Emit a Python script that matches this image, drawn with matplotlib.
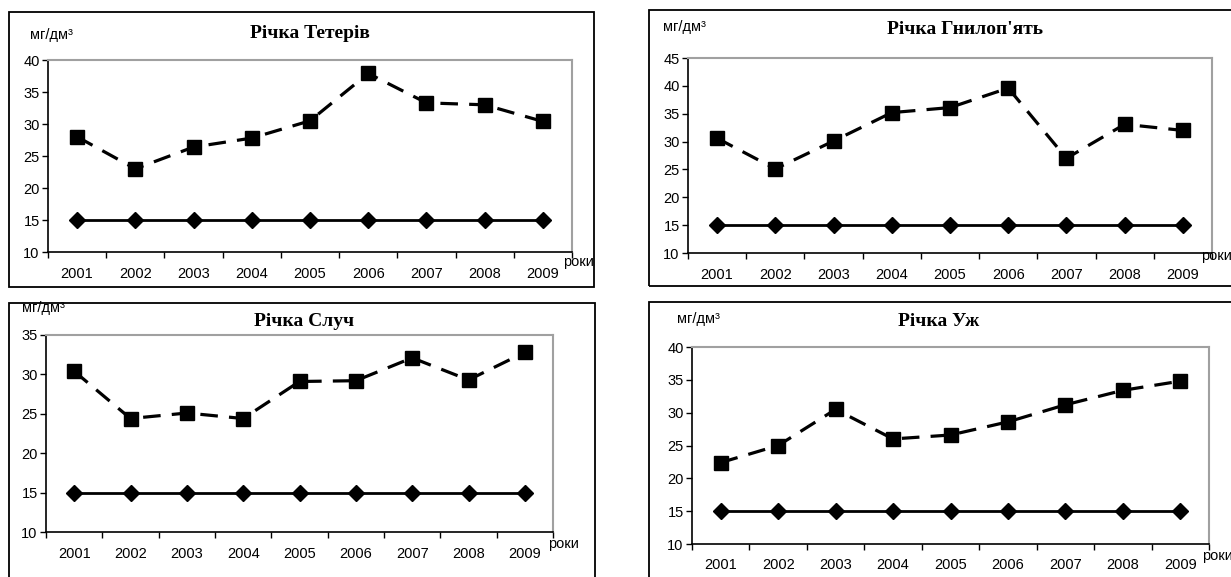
import matplotlib.pyplot as plt
from matplotlib.patches import Rectangle

years = ["2001", "2002", "2003", "2004", "2005", "2006", "2007", "2008", "2009"]
norm = [15, 15, 15, 15, 15, 15, 15, 15, 15]

teteriv = [28.0, 23.0, 26.4, 27.8, 30.5, 37.9, 33.3, 33.0, 30.4]
hnylopiat = [30.6, 25.1, 30.1, 35.2, 36.1, 39.6, 27.0, 33.1, 32.0]
sluch = [30.4, 24.4, 25.1, 24.4, 29.1, 29.2, 32.1, 29.3, 32.8]
uzh = [22.4, 25.0, 30.5, 26.0, 26.6, 28.6, 31.2, 33.4, 34.8]

titles = ["Річка Тетерів", "Річка Гнилоп'ять", "Річка Случ", "Річка Уж"]
ylims = [(10, 40), (10, 45), (10, 35), (10, 40)]

W, H = 1231, 577
fig = plt.figure(figsize=(W / 100, H / 100), dpi=100)
fig.patch.set_facecolor("white")


def fx(x):
    return x / W


def fy(y):
    return 1 - y / H


# layout in pixels: outer box, plot area, title, units label, "роки", tick pad
panels = [
    dict(box=(9, 12, 594, 287), plot=(48, 60, 572, 252), title=(310, 33),
         units=(30, 35), roky=(563, 262), pad=11),
    dict(box=(649, 10, 1245, 286), plot=(688, 58, 1212, 253), title=(965, 30),
         units=(663, 27), roky=(1201, 256), pad=11),
    dict(box=(9, 303, 595, 590), plot=(46, 335, 553, 532), title=(304, 322),
         units=(22, 308), roky=(548, 544), pad=11),
    dict(box=(649, 302, 1245, 590), plot=(692, 347, 1209, 544), title=(939, 322),
         units=(677, 319), roky=(1202, 556), pad=10),
]
series = [teteriv, hnylopiat, sluch, uzh]

for p, vals, title, ylim in zip(panels, series, titles, ylims):
    bx0, by0, bx1, by1 = p["box"]
    fig.add_artist(Rectangle((fx(bx0), fy(by1)), fx(bx1 - bx0), (by1 - by0) / H,
                             transform=fig.transFigure, fill=False,
                             edgecolor="black", linewidth=1.3))
    x0, y0, x1, y1 = p["plot"]
    ax = fig.add_axes([fx(x0), fy(y1), fx(x1 - x0), (y1 - y0) / H])
    xs = range(len(years))
    ax.plot(xs, norm, color="black", linewidth=2, marker="D", markersize=8.5,
            markerfacecolor="black", markeredgecolor="black")
    ax.plot(xs, vals, color="black", linewidth=2.3, dashes=(5.5, 3.5), marker="s",
            markersize=10, markerfacecolor="black", markeredgecolor="black")
    ax.set_xlim(-0.5, len(years) - 0.5)
    ax.set_ylim(*ylim)
    ax.set_yticks(range(ylim[0], ylim[1] + 1, 5))
    ax.set_xticks([i - 0.5 for i in range(len(years) + 1)])
    ax.set_xticklabels([])
    ax.set_xticks(list(xs), minor=True)
    ax.set_xticklabels(years, minor=True)
    ax.tick_params(axis="x", which="major", direction="out", length=4, width=1)
    ax.tick_params(axis="x", which="minor", length=0, pad=p["pad"], labelsize=10.5)
    ax.tick_params(axis="y", direction="out", length=4, width=1, pad=2, labelsize=10.5)
    for lab in ax.get_xticklabels(minor=True) + ax.get_yticklabels():
        lab.set_family("Liberation Sans")
    for s in ["left", "bottom"]:
        ax.spines[s].set_color("black")
        ax.spines[s].set_linewidth(1.2)
    for s in ["top", "right"]:
        ax.spines[s].set_color("#a0a0a0")
        ax.spines[s].set_linewidth(1.5)

    tx, ty = p["title"]
    fig.text(fx(tx), fy(ty), title, ha="center", va="center", fontsize=14,
             fontweight="bold", family="Liberation Serif")
    ux, uy = p["units"]
    fig.text(fx(ux), fy(uy), "мг/дм³", ha="left", va="center", fontsize=10.5,
             family="Liberation Sans")
    rx, ry = p["roky"]
    fig.text(fx(rx), fy(ry), "роки", ha="left", va="center", fontsize=10.5,
             family="Liberation Sans")

fig.savefig("out.png", dpi=100)
